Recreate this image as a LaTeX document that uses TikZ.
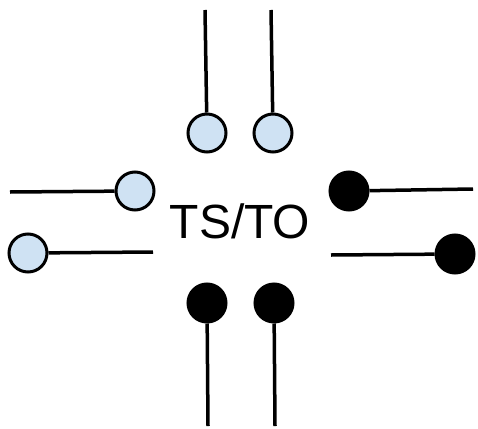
\documentclass[tikz,border=0pt]{standalone}
\usepackage{fontspec}
\setmainfont{Liberation Sans}
\definecolor{pinblue}{RGB}{207,226,243}
\begin{document}
\begin{tikzpicture}[x=1pt,y=-1pt,
  pin/.style={circle,draw=black,line width=3pt,minimum size=38pt,inner sep=0pt},
  inpin/.style={pin,fill=pinblue},
  outpin/.style={pin,fill=black},
  wire/.style={line width=3.5pt}]
 \useasboundingbox (0,0) rectangle (478,428);
 % inputs (top and left)
 \node[inpin] (in1) at (207,133) {};
 \node[inpin] (in2) at (273,133) {};
 \node[inpin] (in3) at (135,191) {};
 \node[inpin] (in4) at (28,253) {};
 \coordinate (t1) at (205,10);
 \coordinate (t2) at (271,10);
 \coordinate (l3) at (10,192);
 \coordinate (l4) at (153,252);
 \draw[wire] (t1) -- (in1);
 \draw[wire] (t2) -- (in2);
 \draw[wire] (l3) -- (in3);
 \draw[wire] (in4) -- (l4);
 % outputs (right and bottom)
 \node[outpin] (out1) at (349,191) {};
 \node[outpin] (out2) at (455,254) {};
 \node[outpin] (out3) at (207,303) {};
 \node[outpin] (out4) at (274,303) {};
 \coordinate (r1) at (473,189);
 \coordinate (r2) at (331,255);
 \coordinate (b3) at (208,426);
 \coordinate (b4) at (275,426);
 \draw[wire] (out1) -- (r1);
 \draw[wire] (r2) -- (out2);
 \draw[wire] (out3) -- (b3);
 \draw[wire] (out4) -- (b4);
 % label
 \node[anchor=base,font=\fontsize{48}{56}\selectfont,inner sep=0pt] (tsto) at (240,238) {TS/TO};
\end{tikzpicture}
\end{document}
